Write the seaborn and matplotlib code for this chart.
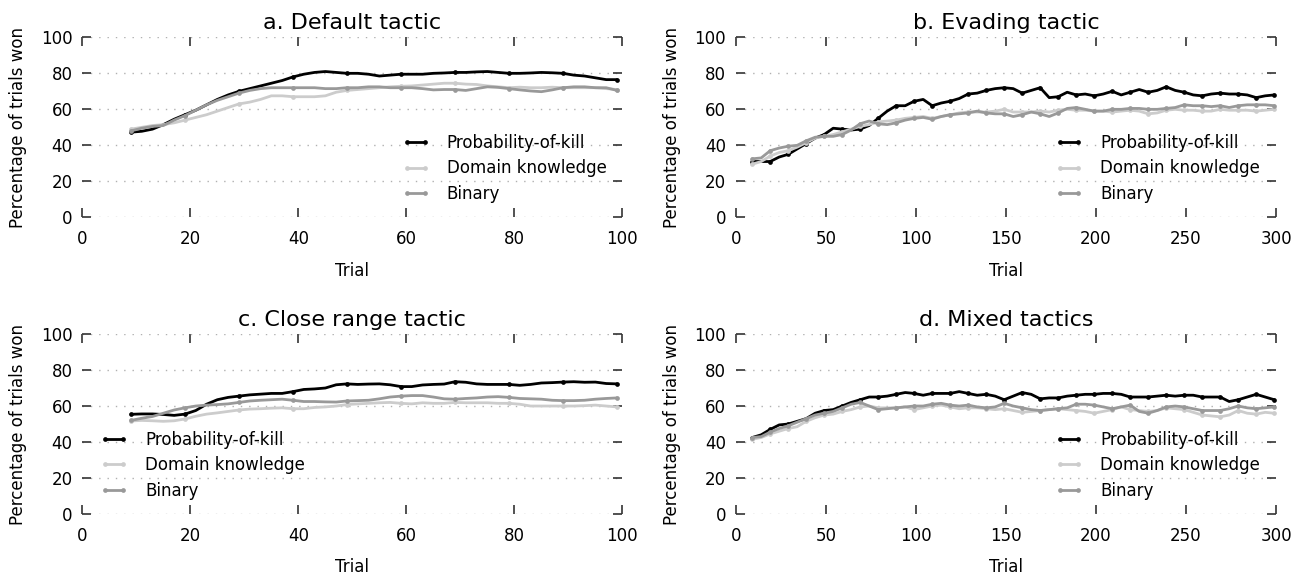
import numpy as np
import pandas as pd
import seaborn as sns
import matplotlib
matplotlib.use("Agg")
import matplotlib.pyplot as plt

# %%
# moving-average win rates
trials_100 = np.arange(9, 100, 2)
trials_300 = np.arange(9, 300, 5)

default_pok = [47.3, 47.8, 49, 51.5, 54.5, 57, 59.5, 62.5, 65.5, 68,
               70, 71.5, 73, 74.5, 76, 78, 79.5, 80.5, 81, 80.5,
               80, 80, 79.5, 78.5, 79, 79.5, 79.5, 79.5, 80, 80.2,
               80.5, 80.5, 80.8, 81, 80.5, 80, 80, 80.2, 80.5, 80.3,
               80, 79, 78.5, 77.5, 76.5, 76.5]
default_dk = [49, 50, 51, 51.5, 52.5, 54, 55.5, 57, 59, 61,
              63, 64, 65.5, 67.5, 67.5, 67, 67, 67, 67.5, 69.5,
              70.5, 71, 71.5, 72, 72.5, 72.8, 73, 73.5, 74, 74.5,
              74.5, 74, 73.8, 73, 72.5, 72, 72.3, 72, 72, 72.3,
              72, 72, 72, 72, 71.5, 71]
default_bin = [48, 49.5, 50.5, 51, 54, 56.5, 59.5, 62.5, 65, 67,
               69, 70.5, 71.5, 72, 72, 72, 72, 72, 71.5, 71.5,
               72, 72, 72.5, 72.5, 72, 72, 72, 71.5, 70.8, 71,
               71, 70.5, 71.5, 72.5, 72.2, 71.5, 70.8, 70.2, 69.8, 70.8,
               72, 72.5, 72.5, 72, 72, 70.5]

close_pok = [55.4, 55.6, 55.6, 55.3, 54.8, 55.5, 57.5, 61, 63.5, 64.8,
             65.5, 66.2, 66.6, 67, 67, 68, 69.2, 69.5, 70, 71.8,
             72.3, 72, 72.2, 72.3, 71.8, 70.8, 70.8, 71.7, 72, 72.2,
             73.5, 73.2, 72.3, 72, 72, 72, 71.5, 72, 72.8, 73,
             73.3, 73.5, 73.2, 73.3, 72.5, 72.3]
close_dk = [51.7, 52, 51.8, 51.5, 51.8, 52.8, 54.3, 55.5, 56.2, 57,
            57.8, 58.3, 58.5, 58.8, 59, 58.5, 58.5, 59.2, 59.5, 60,
            60.8, 61.2, 61.5, 61.8, 62, 61.5, 61.2, 61.8, 61.5, 61.5,
            62, 61.8, 61.8, 61.8, 61.5, 61.5, 61, 60, 60, 60,
            60, 60, 60.2, 60.5, 60, 59.5]
close_bin = [52, 53.2, 54.2, 56, 57.8, 59, 60, 60.5, 60.8, 61.2,
             62, 62.8, 63.2, 63.5, 63.8, 63.2, 62.5, 62.5, 62.3, 62.2,
             62.8, 63, 63.2, 64, 65, 65.5, 65.8, 65.8, 65, 64,
             63.8, 64.2, 64.5, 65, 65.2, 64.8, 64.2, 64, 63.8, 63.2,
             63, 63, 63.2, 63.8, 64.2, 64.5]

evading_pok = [31, 31, 31, 33.5, 35, 38, 41, 44, 46, 49.5,
               49, 48.5, 49, 51, 55, 59, 62, 62, 64.5, 65.5,
               62, 63.5, 64.5, 66, 68.5, 69, 70.5, 71.5, 72, 71.5,
               69, 70.5, 72, 66.5, 67, 69.5, 68, 68.5, 67.5, 68.5,
               70, 68, 69.5, 71, 69.5, 70.5, 72.5, 70.5, 69.5, 68,
               67.5, 68.5, 69, 68.5, 68.5, 68, 66.5, 67.5, 68]
evading_dk = [29.5, 31, 34, 36, 37, 39, 41.5, 44, 45, 46,
              47.5, 49, 50.5, 51.5, 53, 53.5, 54, 55, 55.5, 56,
              55, 56, 57, 58, 58.5, 58.5, 58.5, 59, 60, 58.5,
              58.5, 58.5, 59, 58.5, 59.5, 60, 59.5, 59.5, 59, 59,
              58.5, 59, 59.5, 59, 57.5, 58, 59.5, 60, 59.5, 59.5,
              59, 59, 60, 59.5, 59.5, 59.5, 59, 59.5, 60]
evading_bin = [32.5, 33, 37, 38.5, 39.5, 40, 42.5, 44.5, 45, 45,
               46, 48.5, 52, 53.5, 52, 51.5, 52.5, 54, 55, 55.5,
               54.5, 56, 57, 57.5, 58, 59, 58, 57.5, 57.5, 56,
               57, 58.5, 57.5, 56, 58, 60.5, 61, 60, 59, 59,
               60, 60, 60.5, 60.5, 60, 60, 60.5, 61, 62.5, 62,
               62, 61.5, 62, 61, 62, 62.5, 62.5, 62.5, 62]

mixed_pok = [42.5, 44, 47, 49.5, 50, 51.5, 53, 56, 57.5, 58,
             60, 62, 63.5, 65, 65, 65.5, 66.5, 67.5, 67, 66,
             67, 67, 67, 68, 67, 66, 66.5, 65.5, 63.5, 65.5,
             67.5, 66.5, 64, 64.5, 64.5, 65.5, 66, 66.5, 66.5, 67,
             67, 66.5, 65, 65, 65, 65.5, 66, 65.5, 66, 66,
             65, 65, 65, 62.5, 63.5, 65, 66.5, 65, 63.5]
mixed_dk = [41.5, 42.5, 44.5, 46, 47.5, 48.5, 51.5, 53.5, 55, 55.5,
            57, 58, 59.5, 60, 59, 59, 59, 59.5, 58, 59,
            60, 60.5, 59.5, 58.5, 59, 59, 58.5, 58, 58.5, 57.5,
            56.5, 57, 57.5, 58, 58.5, 58, 57.5, 57, 56, 57,
            58, 59.5, 58, 57.5, 57, 57.5, 59, 58.5, 58, 56.5,
            55, 54.5, 54, 55, 57.5, 56, 55.5, 56.5, 56]
mixed_bin = [42.5, 43, 45.5, 47.5, 49, 51, 53, 55, 56, 57,
             59, 61, 62, 60, 58, 58.5, 59, 59.5, 60, 60,
             61, 61.5, 60.5, 60, 60.5, 59.5, 59, 59.5, 61.5, 60,
             59, 58, 57.5, 58, 58.5, 59, 61, 61, 60.5, 59.5,
             58.5, 59.5, 60.5, 57, 56, 57.5, 59.5, 60, 59.5, 58.5,
             57.5, 57.5, 57.5, 58.5, 60, 59, 58.5, 59, 59.5]

labels = ['Probability-of-kill', 'Domain knowledge', 'Binary']
colors = ['#000000', '#cccccc', '#999999']

# %%
sns.set_style("white")
plt.rcParams['font.family'] = ['DejaVu Sans']
plt.rcParams['text.color'] = 'black'
plt.rcParams['axes.labelcolor'] = 'black'
plt.rcParams['xtick.labelcolor'] = 'black'
plt.rcParams['ytick.labelcolor'] = 'black'

fig = plt.figure(figsize=(13.07, 5.76), dpi=100)

panels = [
    ('a. Default tactic', trials_100, [default_pok, default_dk, default_bin],
     [0.063, 0.6227, 0.4132, 0.3125], 20, (0.5915, 0.272)),
    ('b. Evading tactic', trials_300, [evading_pok, evading_dk, evading_bin],
     [0.5631, 0.6227, 0.4132, 0.3125], 50, (0.591, 0.272)),
    ('c. Close range tactic', trials_100, [close_pok, close_dk, close_bin],
     [0.063, 0.1076, 0.4132, 0.3125], 20, (0.033, 0.271)),
    ('d. Mixed tactics', trials_300, [mixed_pok, mixed_dk, mixed_bin],
     [0.5631, 0.1076, 0.4132, 0.3125], 50, (0.591, 0.271)),
]

for title, trials, series, rect, xstep, leg_pos in panels:
    ax = fig.add_axes(rect)
    markevery = 5 if len(trials) < 50 else 2
    for vals, lab, col in zip(series, labels, colors):
        sns.lineplot(x=trials, y=vals, ax=ax, color=col, label=lab,
                     linewidth=2, marker='o', markersize=3.4,
                     markeredgewidth=0, markevery=markevery)
    xmax = trials[-1] + 1
    ax.set_xlim(0, xmax)
    ax.set_ylim(0, 100)
    ax.set_xticks(np.arange(0, xmax + 1, xstep))
    ax.set_yticks(np.arange(0, 101, 20))
    for s in ax.spines.values():
        s.set_visible(False)
    ax.tick_params(axis='both', which='major', direction='in', length=6.5,
                   width=1.2, color='#333333', labelsize=12, labelcolor='black',
                   top=True, right=True, bottom=True, left=True)
    ax.tick_params(axis='x', pad=9)
    ax.tick_params(axis='y', pad=7)
    ax.yaxis.grid(True, color='#b0b0b0', linestyle=(0, (1, 5)), linewidth=1)
    ax.xaxis.grid(False)
    ax.set_title(title, fontsize=16, pad=6, color='black')
    ax.set_xlabel('Trial', fontsize=12, labelpad=10)
    ax.set_ylabel('Percentage of trials won', fontsize=12, labelpad=10)
    ax.legend(loc='center left', bbox_to_anchor=leg_pos, frameon=False,
              fontsize=12, numpoints=2, handlelength=1.7, handletextpad=1.0,
              borderpad=0, borderaxespad=0, labelspacing=0.45)

fig.savefig('out.png', dpi=100)
